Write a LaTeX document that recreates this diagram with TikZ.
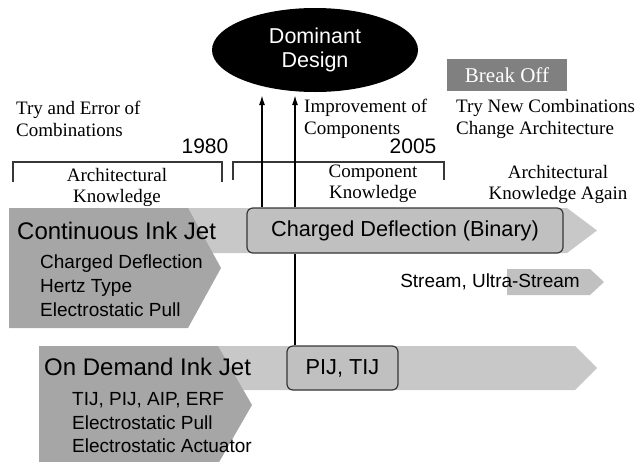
\documentclass[tikz,border=0pt]{standalone}
\usepackage{fontspec}
\setmainfont{Liberation Serif}
\setsansfont{Liberation Sans}
\usepackage{tikz}
\usetikzlibrary{arrows.meta}
\usetikzlibrary{positioning}
\usetikzlibrary{shapes.geometric}
\definecolor{bandgray}{RGB}{200,200,200}
\definecolor{darkband}{RGB}{166,166,166}
\definecolor{boxgray}{RGB}{192,192,192}
\definecolor{breakgray}{RGB}{128,128,128}
\definecolor{edgegray}{RGB}{55,55,55}
\tikzstyle{every node}+=[inner sep=0pt]
\tikzstyle{band} = [fill=bandgray]
\tikzstyle{head} = [fill=darkband]
\tikzstyle{block} = [rectangle, draw=edgegray, fill=boxgray, rounded corners=6pt, line width=1.2pt, font=\sffamily\fontsize{21.7}{24}\selectfont]
\tikzstyle{line} = [draw, line width=1.6pt, -{Latex[length=10pt, width=6pt]}]
\tikzstyle{brace} = [draw=edgegray, line width=1.2pt]
\tikzstyle{note} = [anchor=west, align=left, font=\fontsize{19}{21.5}\selectfont]
\tikzstyle{know} = [align=center, font=\fontsize{19}{21}\selectfont]
\tikzstyle{year} = [font=\sffamily\fontsize{21}{24}\selectfont]
\tikzstyle{title} = [anchor=west, font=\sffamily\fontsize{24}{28}\selectfont]
\tikzstyle{items} = [anchor=north west, align=left, font=\sffamily\fontsize{19}{23.8}\selectfont]

\begin{document}
\begin{tikzpicture}[x=1pt, y=-1pt]
            \useasboundingbox (0,0) rectangle (636,461);
            % Bands
            \path [band] (9,208) -- (567,208) -- (597,230.5) -- (567,253) -- (9,253) -- cycle;
            \path [head] (9,208) -- (188,208) -- (221,268) -- (188,328) -- (9,328) -- cycle;
            \path [band] (39,346) -- (575,346) -- (597,368) -- (575,390) -- (39,390) -- cycle;
            \path [head] (39,346) -- (218,346) -- (252,405) -- (218,464) -- (39,464) -- cycle;
            \path [fill=boxgray] (507,269) -- (590,269) -- (604,282) -- (590,295) -- (507,295) -- cycle;
            % Place nodes
            \node [ellipse, fill=black, minimum width=206pt, minimum height=84pt, align=center, text=white,
                   font=\sffamily\fontsize{21.5}{24}\selectfont] (dom) at (315,50) {Dominant\\Design};
            \node [fill=breakgray, text=white, minimum width=120pt, minimum height=32pt,
                   font=\fontsize{21}{24}\selectfont] (brk) at (507,75) {Break Off};
            \node [note] (tryerr) at (16,119) {Try and Error of\\Combinations};
            \node [note] (improve) at (304,119) {Improvement of\\Components};
            \node [note] (trynew) at (456,119) {Try New Combinations\\Change Architecture};
            \node [year] (y1980) at (205,146) {1980};
            \node [year] (y2005) at (413,146) {2005};
            \node [know] (arch) at (117,187) {Architectural\\Knowledge};
            \node [know] (comp) at (373,184) {Component\\Knowledge};
            \node [know] (again) at (558,184) {Architectural\\Knowledge Again};
            \node [block, minimum width=316pt, minimum height=45pt] (cd) at (405,230.5) {Charged Deflection (Binary)};
            \node [block, minimum width=111pt, minimum height=44pt] (pij) at (342.5,368) {PIJ, TIJ};
            \node [title] (cij) at (17,231) {Continuous Ink Jet};
            \node [items] (cijlist) at (40,255) {Charged Deflection\\Hertz Type\\Electrostatic Pull};
            \node [title] (odij) at (44,367) {On Demand Ink Jet};
            \node [items] (odijlist) at (72,392) {TIJ, PIJ, AIP, ERF\\Electrostatic Pull\\Electrostatic Actuator};
            \node [font=\sffamily\fontsize{19}{22}\selectfont] (stream) at (490,282) {Stream, Ultra-Stream};
            \coordinate (t1) at (262,95);
            \coordinate (t2) at (295,95);
            % Brackets
            \draw [brace] (13,182) -- (13,162) -- (222,162) -- (222,182);
            \draw [brace] (233,180) -- (233,162) -- (444,162) -- (444,180);
            % Draw edges
            \path [line] (cd.north -| t1) -- (t1);
            \path [line] (cd.north -| t2) -- (t2);
            \draw [line width=1.6pt] (pij.north -| t2) -- (cd.south -| t2);
          \end{tikzpicture}
\end{document}
